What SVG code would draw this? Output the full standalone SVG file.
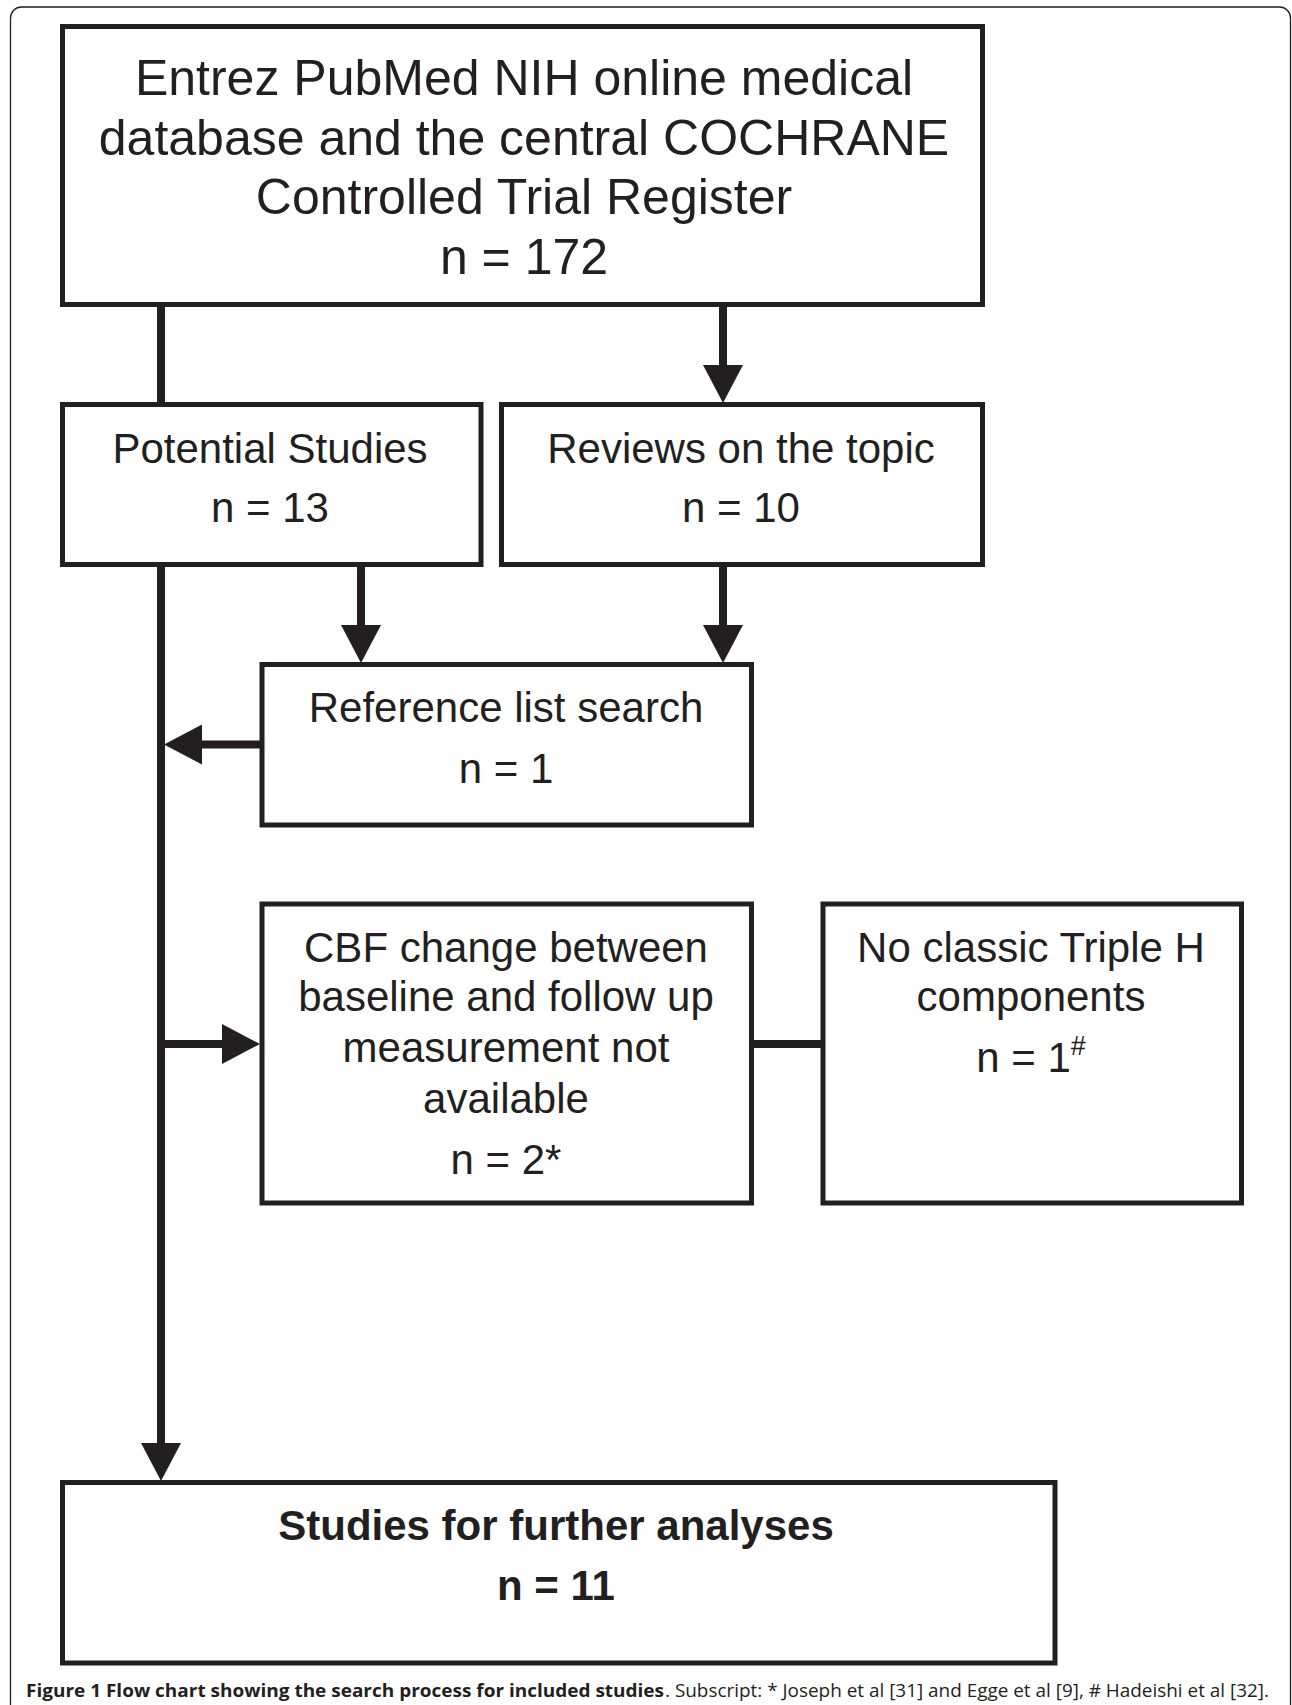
<svg xmlns="http://www.w3.org/2000/svg" width="1292" height="1705" viewBox="0 0 1292 1705">
  <defs>
    <style>
      .box { fill: #ffffff; stroke: #231f20; stroke-width: 5; }
      .conn { fill: none; stroke: #231f20; stroke-width: 8; }
      .t { font-family: "Liberation Sans", Arial, sans-serif; fill: #231f20; text-anchor: middle; }
      .t50 { font-size: 50px; }
      .t42 { font-size: 42px; }
      .b { font-weight: bold; }
      .cap { font-family: "Open Sans", "Liberation Sans", sans-serif; font-size: 18px; fill: #231f20; }
    </style>
    <marker id="ah" viewBox="0 0 38 40" markerWidth="38" markerHeight="40" refX="0" refY="20" orient="auto" markerUnits="userSpaceOnUse">
      <path d="M0,0 L38,20 L0,40 Z" fill="#231f20"/>
    </marker>
  </defs>
  <rect width="1292" height="1705" fill="#ffffff"/>
  <rect id="frame" x="10.5" y="7" width="1280" height="1740" rx="11" ry="11" fill="none" stroke="#231f20" stroke-width="1.3"/>

  <g id="connectors">
    <line class="conn" x1="161" y1="306" x2="161" y2="403"/>
    <line class="conn" x1="723" y1="306" x2="723" y2="365" marker-end="url(#ah)"/>
    <line class="conn" x1="361" y1="566" x2="361" y2="625" marker-end="url(#ah)"/>
    <line class="conn" x1="723" y1="566" x2="723" y2="625" marker-end="url(#ah)"/>
    <line class="conn" x1="261" y1="744.5" x2="202" y2="744.5" marker-end="url(#ah)"/>
    <line class="conn" x1="161" y1="566" x2="161" y2="1443" marker-end="url(#ah)"/>
    <line class="conn" x1="165" y1="1044" x2="222" y2="1044" marker-end="url(#ah)"/>
    <line class="conn" x1="752" y1="1044" x2="822" y2="1044"/>
  </g>

  <g id="node-database">
    <rect class="box" x="62.5" y="26.5" width="920" height="278"/>
    <text class="t t50" x="524" y="95">Entrez PubMed NIH online medical</text>
    <text class="t t50" x="524" y="154.5">database and the central COCHRANE</text>
    <text class="t t50" x="524" y="214">Controlled Trial Register</text>
    <text class="t t50" x="524" y="273.5">n = 172</text>
  </g>

  <g id="node-potential">
    <rect class="box" x="62.5" y="404.5" width="418.5" height="160"/>
    <text class="t t42" x="270" y="463">Potential Studies</text>
    <text class="t t42" x="270" y="522">n = 13</text>
  </g>

  <g id="node-reviews">
    <rect class="box" x="501.5" y="404.5" width="481" height="160"/>
    <text class="t t42" x="741" y="463">Reviews on the topic</text>
    <text class="t t42" x="741" y="522">n = 10</text>
  </g>

  <g id="node-reference">
    <rect class="box" x="262" y="664.5" width="489.5" height="160.5"/>
    <text class="t t42" x="506" y="722">Reference list search</text>
    <text class="t t42" x="506" y="783">n = 1</text>
  </g>

  <g id="node-cbf">
    <rect class="box" x="262" y="904" width="489.5" height="299"/>
    <text class="t t42" x="506" y="962">CBF change between</text>
    <text class="t t42" x="506" y="1011">baseline and follow up</text>
    <text class="t t42" x="506" y="1062">measurement not</text>
    <text class="t t42" x="506" y="1113">available</text>
    <text class="t t42" x="506" y="1174">n = 2*</text>
  </g>

  <g id="node-triple-h">
    <rect class="box" x="823" y="904" width="418.5" height="299"/>
    <text class="t t42" x="1031" y="962">No classic Triple H</text>
    <text class="t t42" x="1031" y="1011">components</text>
    <text class="t t42" x="1031" y="1072">n = 1<tspan font-size="27" dy="-17">#</tspan></text>
  </g>

  <g id="node-final">
    <rect class="box" x="62.5" y="1482.5" width="992.5" height="180.5"/>
    <text class="t t42 b" x="556" y="1540">Studies for further analyses</text>
    <text class="t t42 b" x="556" y="1600">n = 11</text>
  </g>

  <g id="caption">
    <text class="cap" x="26" y="1697" font-weight="bold" textLength="638" lengthAdjust="spacingAndGlyphs">Figure 1 Flow chart showing the search process for included studies</text>
    <text class="cap" x="665" y="1697" textLength="604" lengthAdjust="spacingAndGlyphs">. Subscript: * Joseph et al [31] and Egge et al [9], # Hadeishi et al [32].</text>
  </g>
</svg>
